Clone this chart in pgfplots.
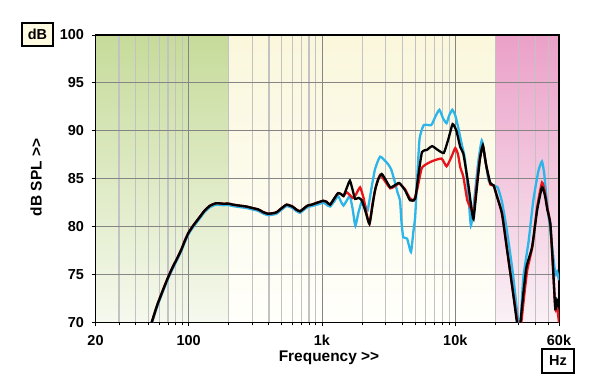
\documentclass[border=0pt]{standalone}
\usepackage{pgfplots}
\pgfplotsset{compat=1.18}
\usepackage{fontspec}
\setmainfont{Liberation Sans}
\definecolor{cyanl}{HTML}{2CB5E8}
\definecolor{redl}{HTML}{E8141C}
\definecolor{creamtop}{HTML}{FAF7DC}
\definecolor{creambot}{HTML}{FFFFFB}
\definecolor{greentop}{HTML}{C6DB9A}
\definecolor{greenbot}{HTML}{F6F9EE}
\definecolor{pinktop}{HTML}{EBA0C8}
\definecolor{pinkbot}{HTML}{FAF1F6}
\definecolor{boxfill}{HTML}{FFFBE0}
\begin{document}
\begin{tikzpicture}
\useasboundingbox (0,0) rectangle (600bp,389bp);
\shade[top color=creamtop, bottom color=creambot] (95.5bp,66.5bp) rectangle (559bp,354bp);
\shade[top color=greentop, bottom color=greenbot] (95.5bp,66.5bp) rectangle (228.8bp,354bp);
\shade[top color=pinktop, bottom color=pinkbot] (495.4bp,66.5bp) rectangle (559bp,354bp);
\begin{axis}[
  at={(95.5bp,66.5bp)}, anchor=south west,
  scale only axis, width=463.5bp, height=287.5bp,
  xmode=log, xmin=20, xmax=60000, ymin=70, ymax=100,
  xtick={20,100,1000,10000,60000},
  xticklabels={20,100,1k,10k,60k},
  minor xtick={30,40,50,60,70,80,90,200,300,400,500,600,700,800,900,2000,3000,4000,5000,6000,7000,8000,9000,20000,30000,40000,50000},
  ytick={70,75,80,85,90,95,100},
  yticklabels={70,75,80,85,90,95,100},
  grid=both,
  major grid style={draw=black!48, line width=0.9bp},
  minor grid style={draw=black!24, line width=1.2bp},
  tick align=outside,
  xtick pos=bottom, ytick pos=left,
  major tick length=4bp, minor tick length=3bp,
  tick style={black, line width=0.9bp},
  axis line style={black, line width=1.6bp},
  ticklabel style={font=\fontsize{14.5}{16}\selectfont\bfseries},
  xticklabel style={yshift=-5bp},
  yticklabel style={xshift=-4bp},
  clip=true,
]
% cyan
\addplot[cyanl, line width=2.3bp, smooth, tension=0.3] coordinates {
(50,69.15)(52.7,69.85)(58,71.65)(65,73.45)(70,74.55)(76,75.65)(82,76.55)(88,77.45)(94,78.45)(100,79.25)(108,79.95)(115,80.45)(124,81.05)(132,81.55)(145,82.05)(161,82.3)(180,82.25)(200,82.25)(215,82.15)(240,82.05)(272,81.95)(300,81.8)(332,81.65)(365,81.35)(395,81.2)(425,81.25)(456,81.35)(500,81.8)(543,82.15)(600,81.95)(640,81.65)(684,81.45)(730,81.75)(780,82.05)(837,82.15)(920,82.3)(1023,82.5)
(1080,82.3)(1150,82.1)(1230,82.6)(1320,83.2)(1390,82.6)(1450,82.2)(1530,82.7)(1620,83.2)(1700,81.8)(1780,80.1)(1880,81.5)(2000,82.75)(2100,82.3)(2200,81.7)(2350,84.0)(2500,86.0)(2730,87.3)(3100,86.6)(3300,86.0)(3500,84.8)(3700,83.5)(3850,82.75)(3950,80.5)(4070,78.9)(4350,78.75)(4650,77.35)(4850,79.5)(5000,81.0)(5200,85.5)(5400,89.2)(5800,90.6)(6600,90.6)(7100,91.5)(7600,92.2)(8100,91.3)(8600,90.8)(9000,91.6)(9500,92.2)(10000,91.6)(10500,90.4)(11100,88.8)(11800,87.1)(12500,83.5)(13100,80.1)(13800,82.5)(14800,86.5)(15800,89.0)(16800,87.0)(17800,84.8)(19200,84.3)(20800,84.1)(22400,82.6)(24400,79.6)(27000,75.2)(29700,70)(30300,69)(30900,70)(32400,74.7)(35500,78.5)(38500,82.75)(42000,85.8)(44700,86.8)(46500,85.5)(48500,82.75)(52000,79.2)(56300,75.1)(58000,75.3)(60000,74.4)
};
% red
\addplot[redl, line width=2.3bp, smooth, tension=0.3] coordinates {
(50,69.3)(52.7,70)(58,71.8)(65,73.6)(70,74.7)(76,75.8)(82,76.7)(88,77.6)(94,78.6)(100,79.4)(108,80.1)(115,80.6)(124,81.2)(132,81.7)(145,82.2)(161,82.45)(180,82.4)(200,82.4)(215,82.3)(240,82.2)(272,82.1)(300,81.95)(332,81.8)(365,81.5)(395,81.35)(425,81.4)(456,81.5)(500,81.95)(543,82.3)(600,82.1)(640,81.8)(684,81.6)(730,81.9)(780,82.2)(837,82.3)(920,82.5)(1023,82.7)(1080,82.6)(1150,82.3)(1230,82.9)(1320,83.5)(1390,83.4)(1450,83.2)
(1530,83.6)(1620,83.3)(1700,83.0)(1790,83.3)(1930,84.1)(2050,83.0)(2150,81.5)(2270,80.3)(2400,82.5)(2550,84.3)(2730,85.4)(2950,84.8)(3250,84.0)(3500,84.2)(3800,84.5)(4200,83.9)(4550,83.0)(4900,82.75)(5200,84.0)(5600,86.1)(6200,86.6)(6900,86.9)(7900,87.1)(8600,86.3)(9300,87.2)(10000,88.2)(10500,87.5)(10900,86.2)(11500,85.2)(12300,82.75)(13000,82.0)(13700,81.4)(14500,84.5)(15300,87.2)(16100,88.4)(17000,86.5)(18300,84.4)(19400,84.3)(20500,83.2)(22400,81.4)(24500,77.6)(26700,73.8)(29300,70)(30300,68.6)(31300,70)(33000,73.0)(34700,75.5)(38000,78)(41100,82)(44700,84.6)(47000,83.6)(49000,82)(51700,80.2)(54000,75.8)(56300,71.4)(58000,71.6)(60000,70.0)
};
% black
\addplot[black, line width=2.3bp, smooth, tension=0.3] coordinates {
(50,69.3)(52.7,70)(58,71.8)(65,73.6)(70,74.7)(76,75.8)(82,76.7)(88,77.6)(94,78.6)(100,79.4)(108,80.1)(115,80.6)(124,81.2)(132,81.7)(145,82.2)(161,82.45)(180,82.4)(200,82.4)(215,82.3)(240,82.2)(272,82.1)(300,81.95)(332,81.8)(365,81.5)(395,81.35)(425,81.4)(456,81.5)(500,81.95)(543,82.3)(600,82.1)(640,81.8)(684,81.6)(730,81.9)(780,82.2)(837,82.3)(920,82.5)(1023,82.7)(1080,82.6)(1150,82.3)(1230,82.9)(1320,83.5)(1390,83.4)(1450,83.2)(1530,84.0)(1620,84.8)(1700,83.8)(1770,82.9)(1880,83.0)(1990,82.75)(2130,81.5)(2270,80.3)(2400,82.3)(2500,83.8)(2650,85.0)(2810,85.5)(3000,84.9)(3250,84.1)(3500,84.3)(3800,84.56)(4200,83.8)(4580,82.75)(5000,82.9)(5300,85.5)(5630,87.8)(6100,88.0)(6700,88.4)(7400,88.0)(8200,87.7)(8900,89.2)(9550,90.7)(10200,90.0)(10900,88.3)(11500,87.6)(12500,84.5)(13200,82.0)(13700,80.8)(14500,84)(15300,87)(16100,88.5)(17000,86.5)(18300,84.56)(19400,84.3)(20500,83.2)(22400,81.36)(24500,77.5)(26700,73.8)(29000,70)(29900,68.6)(30800,70)(32500,73.2)(34200,75.8)(37700,77.9)(41100,81.7)(44700,84.1)(47000,83.3)(49000,81.8)(51700,80.3)(54000,76.0)(56300,71.4)(58000,72.3)(60000,71.6)
};
\end{axis}
\node[font=\fontsize{15.5}{17}\selectfont\bfseries] at (329bp,31.5bp) {Frequency {>}{>}};
\node[font=\fontsize{15.5}{17}\selectfont\bfseries, rotate=90] at (36bp,211.5bp) {dB SPL {>}{>}};
\node[draw=black, line width=1.3bp, fill=boxfill, minimum width=31bp, minimum height=23bp, inner sep=0pt, font=\fontsize{14.5}{16}\selectfont\bfseries] at (37.5bp,354.5bp) {dB};
\node[draw=black, line width=1.3bp, fill=white, minimum width=32bp, minimum height=24bp, inner sep=0pt, font=\fontsize{14.5}{16}\selectfont\bfseries] at (558bp,28bp) {Hz};
\end{tikzpicture}
\end{document}
